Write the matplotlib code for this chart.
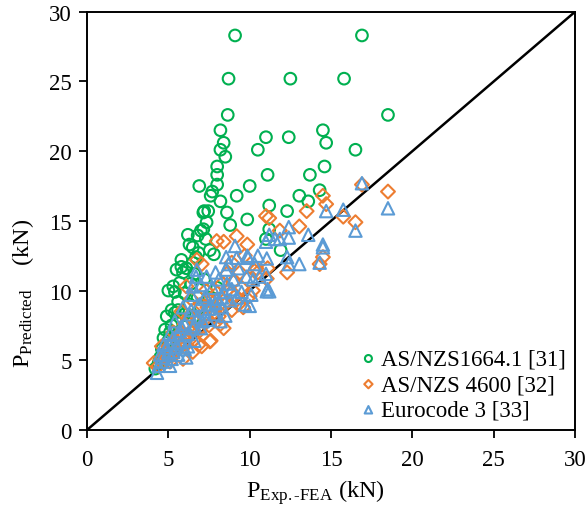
import matplotlib
matplotlib.use("Agg")
import matplotlib.pyplot as plt

plt.rcParams['font.family'] = ['Liberation Serif', 'DejaVu Serif']
plt.rcParams['mathtext.fontset'] = 'custom'
plt.rcParams['mathtext.rm'] = 'Liberation Serif'
plt.rcParams['mathtext.it'] = 'Liberation Serif:italic'

# AS/NZS1664.1 [31]
green_x = [9.1, 16.9, 8.7, 12.5, 15.8, 8.65, 18.5, 8.2, 14.5, 11.0, 12.4, 8.4, 14.7, 8.2, 10.5, 16.5,
           8.5, 8.0, 14.6, 8.0, 11.1, 13.7, 6.9, 8.0, 10.0, 14.3, 7.7, 7.6, 9.2, 13.05, 8.2, 13.6,
           11.2, 7.2, 7.45, 7.15, 8.6, 12.3, 7.35, 9.85, 7.15, 7.0, 8.8, 11.2, 6.2, 6.8, 7.3, 11.0,
           6.3, 6.5, 6.85, 7.55, 11.9, 5.8, 6.1, 5.9, 5.5, 5.3, 5.7, 5.2, 5.6, 4.9, 4.2,
           5.0, 5.4, 6.0, 6.4, 6.6, 5.2, 4.8, 5.0, 4.6, 4.5, 5.5, 6.0, 6.5, 7.0, 7.5, 8.0, 4.4,
           5.3, 6.2, 6.8, 5.8, 6.5, 7.8, 6.0, 5.5, 4.7, 5.1, 5.6, 6.3, 7.2, 6.7, 5.4, 4.9]
green_y = [28.3, 28.3, 25.2, 25.2, 25.2, 22.6, 22.6, 21.5, 21.5, 21.0, 21.0, 20.6, 20.6, 20.1, 20.1, 20.1,
           19.6, 18.9, 18.9, 18.3, 18.3, 18.3, 17.5, 17.6, 17.5, 17.2, 17.1, 16.8, 16.8, 16.8, 16.4, 16.4,
           16.1, 15.7, 15.7, 15.6, 15.6, 15.7, 14.9, 15.1, 14.4, 14.3, 14.7, 14.4, 14.0, 13.95, 13.7, 13.7,
           13.3, 13.1, 12.7, 12.9, 12.9, 11.7, 11.6, 11.3, 11.5, 10.3, 10.55, 8.6, 8.6, 8.15, 4.4,
           10.0, 9.9, 9.8, 10.5, 11.2, 7.5, 7.2, 6.4, 5.8, 5.2, 6.8, 7.4, 8.0, 8.8, 9.5, 10.2, 4.8,
           5.5, 6.8, 9.5, 12.2, 12.0, 12.6, 8.3, 7.8, 6.6, 7.0, 9.2, 9.0, 10.8, 12.4, 8.4, 5.6]

# AS/NZS 4600 [32]
orange_x = [16.9, 18.5, 14.5, 14.7, 13.5, 15.75, 16.5, 11.0, 11.2, 13.05, 11.85, 9.85, 14.5, 14.3, 12.3,
            11.1, 7.97, 8.4, 9.2, 6.75, 7.05, 10.4, 9.4, 10.5, 8.9, 7.6, 7.05, 8.1, 4.1, 6.85, 7.55,
            11.05, 10.0, 10.3,
            4.5, 4.8, 5.0, 5.2, 5.5, 5.6, 5.8, 6.0, 6.0, 6.2, 6.3, 6.5, 6.6, 6.8, 7.0, 7.0, 7.2, 7.3,
            7.5, 7.6, 7.8, 8.0, 8.2, 8.3, 8.5, 8.6, 8.8, 9.0, 9.3, 9.5, 5.3, 5.8, 6.4, 4.6, 5.1, 6.5,
            5.9, 8.9, 9.7, 9.6, 8.4, 6.1, 10.2,
            4.4, 4.9, 5.4, 5.7, 6.1, 6.4, 6.9, 7.3, 7.7, 8.1, 8.6, 5.2, 5.6, 6.7, 7.4, 7.9, 9.1]
orange_y = [17.6, 17.1, 16.8, 16.2, 15.7, 15.3, 14.9, 15.35, 15.2, 14.6, 14.3, 13.3, 12.4, 11.9, 11.3,
            11.6, 13.55, 13.5, 13.9, 12.2, 11.9, 11.6, 11.3, 11.3, 8.6, 6.4, 6.0, 8.15, 4.8, 6.1, 6.35,
            10.85, 9.6, 11.4,
            5.0, 5.5, 6.0, 5.3, 6.4, 5.8, 7.0, 6.2, 7.6, 6.8, 8.2, 7.2, 6.5, 8.0, 7.4, 9.0, 8.2, 10.0,
            7.5, 9.2, 8.4, 9.8, 7.6, 10.5, 9.0, 11.2, 9.8, 10.6, 9.0, 10.2, 7.0, 8.5, 9.4, 6.0, 4.9, 5.6,
            5.1, 12.0, 12.5, 8.8, 7.3, 10.3, 10.0,
            4.6, 5.2, 5.7, 6.1, 6.5, 7.0, 7.1, 8.0, 8.7, 8.9, 10.0, 6.2, 6.8, 7.7, 8.8, 9.3, 9.6]

# Eurocode 3 [33]
blue_x = [16.9, 18.5, 14.7, 15.75, 16.5, 12.4, 11.2, 12.4, 13.6, 11.85, 14.5, 14.5, 11.0, 9.85, 12.3,
          14.3, 13.05, 12.4, 11.1, 10.6, 9.1, 11.55, 8.55, 9.2, 9.9, 10.5, 11.05, 6.7, 7.35, 8.55,
          11.05, 9.2, 10.2, 9.8, 6.75, 6.5, 4.3, 5.6, 11.2,
          4.4, 4.6, 4.8, 5.0, 5.0, 5.2, 5.3, 5.5, 5.7, 5.8, 6.0, 6.0, 6.2, 6.3, 6.5, 6.6, 6.8, 6.9,
          7.0, 7.2, 7.3, 7.4, 7.6, 7.7, 7.8, 8.0, 8.1, 8.3, 8.4, 8.6, 8.8, 9.0, 9.3, 9.5, 5.4, 5.9,
          6.4, 7.0, 4.7, 5.1, 6.1, 8.2, 9.7, 10.1, 7.9, 8.7, 10.3, 11.0, 10.0,
          4.5, 4.9, 5.3, 5.6, 6.2, 6.6, 7.1, 7.5, 7.9, 8.3, 8.9, 5.1, 5.8, 6.4, 7.2, 8.5]
blue_y = [17.7, 15.9, 15.7, 15.8, 14.3, 14.55, 14.0, 13.8, 14.0, 13.7, 13.3, 13.1, 13.5, 12.5, 12.4,
          12.0, 11.9, 11.9, 10.1, 11.0, 13.2, 13.7, 12.4, 12.35, 12.35, 12.5, 12.3, 11.0, 11.0, 11.5,
          9.95, 9.5, 10.8, 11.0, 11.5, 10.3, 4.1, 5.4, 9.95,
          4.6, 5.2, 4.9, 5.6, 6.2, 5.1, 6.6, 6.0, 7.1, 6.3, 5.8, 7.6, 6.9, 8.3, 7.3, 6.4, 8.1, 9.0,
          7.3, 8.5, 9.6, 7.9, 9.0, 10.2, 8.3, 9.4, 10.8, 8.8, 9.9, 10.5, 9.3, 10.8, 11.6, 9.9, 7.8, 8.8,
          9.7, 10.4, 6.1, 4.6, 5.2, 7.8, 9.0, 9.7, 11.3, 11.9, 11.9, 11.2, 8.9,
          5.4, 5.9, 5.6, 6.8, 6.0, 7.5, 7.8, 8.7, 9.1, 9.5, 10.1, 6.9, 7.4, 8.6, 9.4, 8.2]

line_vals = [0, 30]
ticks = [0, 5, 10, 15, 20, 25, 30]

fig = plt.figure(figsize=(5.88, 5.10), dpi=100)
ax = fig.add_axes([0.148, 0.155, 0.830, 0.820])

ax.plot(line_vals, line_vals, color='black', lw=1.8, zorder=1)
ax.scatter(green_x, green_y, s=70, marker='o', facecolors='none', edgecolors='#00B050',
           linewidths=1.5, label='AS/NZS1664.1 [31]', zorder=2)
ax.scatter(orange_x, orange_y, s=50, marker='D', facecolors='none', edgecolors='#ED7D31',
           linewidths=1.5, label='AS/NZS 4600 [32]', zorder=3)
ax.scatter(blue_x, blue_y, s=80, marker='^', facecolors='none', edgecolors='#5B9BD5',
           linewidths=1.5, label='Eurocode 3 [33]', zorder=4)

ax.set_xlim(0, 30)
ax.set_ylim(0, 30)
ax.set_xticks(ticks)
ax.set_yticks(ticks)
ax.tick_params(direction='out', length=6, width=1.3, labelsize=16.5)
ax.tick_params(axis='x', pad=8)
ax.tick_params(axis='y', pad=5)
for sp in ax.spines.values():
    sp.set_linewidth(1.4)

ax.set_xlabel(r'P$_{\mathrm{Exp.\text{-}FEA}}$ (kN)', fontsize=17.5)
ax.set_ylabel(r'P$_{\mathrm{Predicted}}$    (kN)', fontsize=17.5)
ax.xaxis.set_label_coords(0.467, -0.112)
ax.yaxis.set_label_coords(-0.105, 0.33)

leg = ax.legend(loc='lower right', frameon=False, fontsize=16.5, markerscale=0.6,
                handletextpad=0.0, handlelength=1.1, labelspacing=0.2,
                borderaxespad=0.1, borderpad=0.3)

fig.savefig('out.png', dpi=100)
